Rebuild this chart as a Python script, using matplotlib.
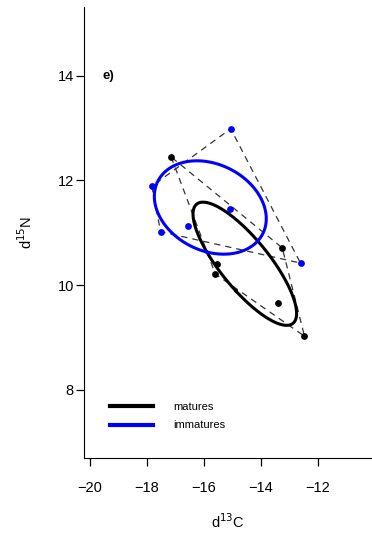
import numpy as np
import matplotlib
matplotlib.use("Agg")
import matplotlib.pyplot as plt

plt.rcParams['font.family'] = ['Liberation Sans', 'DejaVu Sans']

# d13C / d15N values
mat_c = [-17.15, -13.25, -15.53, -15.60, -13.39, -12.47]
mat_n = [12.45, 10.71, 10.40, 10.21, 9.65, 9.02]
imm_c = [-15.06, -17.83, -17.52, -16.56, -15.08, -12.61]
imm_n = [12.99, 11.89, 11.02, 11.13, 11.45, 10.42]

groups = ['matures', 'immatures']
colors = ['black', '#0000ff']


def hull(x, y):
    pts = sorted(zip(x, y))

    def cross(o, a, b):
        return (a[0] - o[0]) * (b[1] - o[1]) - (a[1] - o[1]) * (b[0] - o[0])

    lower, upper = [], []
    for p in pts:
        while len(lower) >= 2 and cross(lower[-2], lower[-1], p) <= 0:
            lower.pop()
        lower.append(p)
    for p in reversed(pts):
        while len(upper) >= 2 and cross(upper[-2], upper[-1], p) <= 0:
            upper.pop()
        upper.append(p)
    h = lower[:-1] + upper[:-1]
    h.append(h[0])
    return np.array(h)


def ellipse(x, y, p=0.4, n=200):
    # standard ellipse (covariance based), SIBER style p.interval
    mu = np.array([np.mean(x), np.mean(y)])
    cov = np.cov(x, y)
    vals, vecs = np.linalg.eigh(cov)
    r = np.sqrt(-2 * np.log(1 - p))
    t = np.linspace(0, 2 * np.pi, n)
    circ = np.vstack([np.cos(t), np.sin(t)]) * np.sqrt(vals)[:, None] * r
    xy = vecs @ circ
    return mu[0] + xy[0], mu[1] + xy[1]


fig = plt.figure(figsize=(3.72, 5.34), dpi=100)
ax = fig.add_axes([0.2266, 0.1414, 0.7734, 0.8455])

data = [(mat_c, mat_n), (imm_c, imm_n)]
for (cx, ny), col, lab in zip(data, colors, groups):
    h = hull(cx, ny)
    ax.plot(h[:, 0], h[:, 1], color='#333333', lw=0.9, ls=(0, (5, 4)), zorder=2)
for (cx, ny), col, lab in zip(data, colors, groups):
    ex, ey = ellipse(np.array(cx), np.array(ny))
    ax.plot(ex, ey, color=col, lw=2.2, label=lab, zorder=3)
    ax.scatter(cx, ny, s=24, color=col, zorder=4, linewidths=0)

ax.set_xlim(-20.2, -10.1)
ax.set_ylim(6.68, 15.32)
ax.set_xticks([-20, -18, -16, -14, -12])
ax.set_yticks([8, 10, 12, 14])
ax.set_xticklabels(['\u221220', '\u221218', '\u221216', '\u221214', '\u221212'])
ax.spines['top'].set_visible(False)
ax.spines['right'].set_visible(False)
ax.tick_params(direction='out', length=6, width=0.9, labelsize=10.5)
ax.tick_params(axis='x', pad=10)
ax.tick_params(axis='y', pad=1.5)
ax.set_xlabel('d$^{13}$C', fontsize=10.5, labelpad=13)
ax.set_ylabel('d$^{15}$N', fontsize=10.5, labelpad=16)

ax.text(-19.55, 14.0, 'e)', fontweight='bold', fontsize=9.5, va='center')

leg = ax.legend(loc='upper left', bbox_to_anchor=(0.055, 0.147), frameon=False,
                fontsize=8, handlelength=3.9, handletextpad=1.8, labelspacing=0.75)
for ln in leg.get_lines():
    ln.set_linewidth(3)

fig.savefig('out.png', dpi=100)
